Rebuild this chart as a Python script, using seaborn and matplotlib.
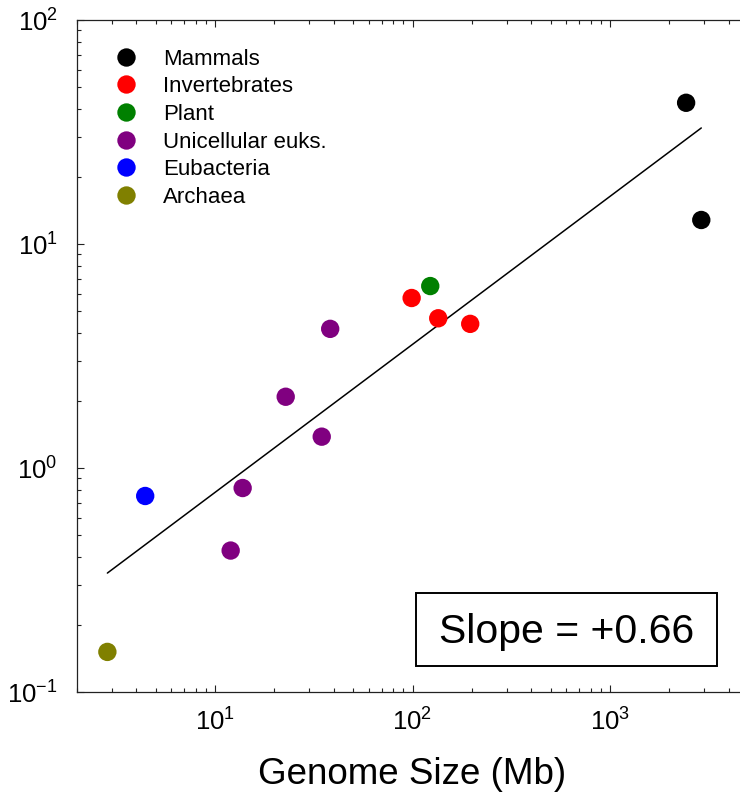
import numpy as np
import pandas as pd
import matplotlib
matplotlib.use("Agg")
import matplotlib.pyplot as plt
from matplotlib.patches import Rectangle
import seaborn as sns

# groups and colours
groups = ["Mammals", "Invertebrates", "Plant", "Unicellular euks.", "Eubacteria", "Archaea"]
colors = ["#000000", "#ff0000", "#008000", "#800080", "#0000ff", "#808000"]

# genome size (Mb) and y value
mammals_size = [2430, 2900]
mammals_val = [42.7, 12.8]
invert_size = [99, 135, 196]
invert_val = [5.74, 4.66, 4.40]
plant_size = [123]
plant_val = [6.49]
unicell_size = [38.3, 22.8, 34.7, 13.8, 12.0]
unicell_val = [4.18, 2.08, 1.38, 0.814, 0.428]
eubact_size = [4.43]
eubact_val = [0.75]
archaea_size = [2.85]
archaea_val = [0.151]

sizes = [mammals_size, invert_size, plant_size, unicell_size, eubact_size, archaea_size]
vals = [mammals_val, invert_val, plant_val, unicell_val, eubact_val, archaea_val]

rows = []
for g, xs, ys in zip(groups, sizes, vals):
    for a, b in zip(xs, ys):
        rows.append((g, a, b))
df = pd.DataFrame(rows, columns=["group", "size", "val"])

sns.set_style("ticks")
plt.rcParams["font.family"] = ["Liberation Sans", "DejaVu Sans"]
plt.rcParams["mathtext.default"] = "regular"
plt.rcParams["text.color"] = "black"
plt.rcParams["xtick.labelcolor"] = "black"
plt.rcParams["ytick.labelcolor"] = "black"
plt.rcParams["axes.labelcolor"] = "black"

fig = plt.figure(figsize=(7.4, 7.92), dpi=100)
ax = fig.add_axes([77 / 740, 1 - 692 / 792, 671 / 740, 672 / 792])
ax.set_xscale("log")
ax.set_yscale("log")

sns.scatterplot(data=df, x="size", y="val", hue="group", hue_order=groups,
                palette=colors, s=175, linewidth=0, ax=ax, zorder=3)

# log-log least squares line
lx = np.log10(df["size"].values)
ly = np.log10(df["val"].values)
coef = np.polyfit(lx, ly, 1)
xl = np.array([lx.min(), lx.max()])
ax.plot(10 ** xl, 10 ** np.polyval(coef, xl), color="black", lw=1.1, zorder=2)

ax.set_xlim(2, 5000)
ax.set_ylim(0.1, 100)

# slope box
ax.add_patch(Rectangle((0.5052, 0.0387), 0.4486, 0.1086, transform=ax.transAxes,
                       fc="white", ec="black", lw=1.4, zorder=4))
ax.text(0.7295, 0.0729, "Slope = +%.2f" % coef[0], transform=ax.transAxes,
        fontsize=29.5, ha="center", va="baseline", zorder=5)

ax.set_xlabel("Genome Size (Mb)", fontsize=26.5, labelpad=15)
ax.set_ylabel("")

for s in ["left", "bottom", "top"]:
    ax.spines[s].set_color("#222222")
    ax.spines[s].set_linewidth(0.9)
ax.spines["right"].set_visible(False)
ax.tick_params(which="both", direction="in", top=True, right=False,
               color="#222222", width=0.8)
ax.tick_params(which="major", length=5, labelsize=18.5)
ax.tick_params(which="minor", length=3)
ax.tick_params(axis="y", which="major", pad=14)
ax.tick_params(axis="x", which="major", pad=12)

handles, labels = ax.get_legend_handles_labels()
ax.legend(handles, labels, frameon=False, loc="upper left",
          bbox_to_anchor=(0.0566, 0.9575), borderaxespad=0, borderpad=0,
          fontsize=16, handlelength=1.0, handletextpad=1.17, labelspacing=0.30)

fig.savefig("out.png", dpi=100)
